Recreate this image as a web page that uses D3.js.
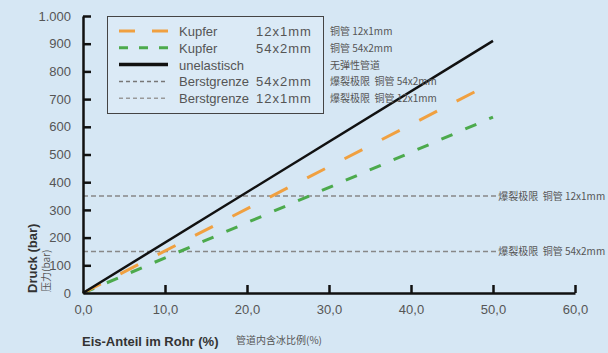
<!DOCTYPE html>
<html>
<head>
<meta charset="utf-8">
<script src="https://cdn.jsdelivr.net/npm/d3@7"></script>
<style>
  body { margin: 0; background: #d6e7f4; }
  svg { display: block; font-family: "Liberation Sans", Arial, sans-serif; }
  text { white-space: pre; }
</style>
</head>
<body>
<div id="chart"></div>
<script>
// data (x = ice share %, y = pressure bar)
const xTicks = [0, 10, 20, 30, 40, 50, 60];
const yTicks = [0, 100, 200, 300, 400, 500, 600, 700, 800, 900, 1000];
const kupfer12 = [[0, 0], [50, 760]];
const kupfer54 = [[0, 0], [50, 635]];
const unelastisch = [[0, 0], [50, 910]];
const berst = [350, 150];
const berstLabels = ["爆裂极限  铜管 12x1mm", "爆裂极限  铜管 54x2mm"];
const legendRows = [
  {name: "Kupfer", size: "12x1mm", cn: "铜管 12x1mm", color: "#f0a040", dash: "16,17", w: 3},
  {name: "Kupfer", size: "54x2mm", cn: "铜管 54x2mm", color: "#4caa4c", dash: "9,11", w: 3},
  {name: "unelastisch", size: "", cn: "无弹性管道", color: "#111", dash: null, w: 3.5},
  {name: "Berstgrenze", size: "54x2mm", cn: "爆裂极限  铜管 54x2mm", color: "#777", dash: "4,3", w: 1.5},
  {name: "Berstgrenze", size: "12x1mm", cn: "爆裂极限  铜管 12x1mm", color: "#999", dash: "4,3", w: 1.5}
];

const W = 608, H = 353;
const svg = d3.select("#chart").append("svg").attr("width", W).attr("height", H);
svg.append("rect").attr("width", W).attr("height", H).attr("fill", "#d6e7f4");

const x = d3.scaleLinear().domain([0, 60]).range([83, 575]);
const y = d3.scaleLinear().domain([0, 1000]).range([293, 16]);

// burst limit lines
berst.forEach((v, i) => {
  svg.append("line")
    .attr("x1", x(0)).attr("x2", x(50.4))
    .attr("y1", y(v)).attr("y2", y(v))
    .attr("stroke", "#888").attr("stroke-width", 1.5)
    .attr("stroke-dasharray", "5,3");
  svg.append("text")
    .attr("x", x(50.4) + 2).attr("y", y(v) + 4)
    .attr("font-family", "'Noto Sans CJK SC'")
    .attr("font-size", 10).attr("fill", "#555")
    .text(berstLabels[i]);
});

const line = d3.line().x(d => x(d[0])).y(d => y(d[1]));
svg.append("path").datum(kupfer54).attr("d", line)
  .attr("fill", "none").attr("stroke", "#4caa4c").attr("stroke-width", 3)
  .attr("stroke-dasharray", "12,14");
svg.append("path").datum(kupfer12).attr("d", line)
  .attr("fill", "none").attr("stroke", "#f0a040").attr("stroke-width", 3)
  .attr("stroke-dasharray", "20,22");
svg.append("path").datum(unelastisch).attr("d", line)
  .attr("fill", "none").attr("stroke", "#111").attr("stroke-width", 2.5);

// axes
const xAxis = svg.append("g").attr("transform", `translate(0,${y(0)})`)
  .call(d3.axisBottom(x).tickValues(xTicks).tickSizeInner(-8).tickSizeOuter(0)
    .tickPadding(12).tickFormat(d => d3.format(".1f")(d).replace(".", ",")));
const yAxis = svg.append("g").attr("transform", `translate(${x(0)},0)`)
  .call(d3.axisLeft(y).tickValues(yTicks).tickSizeInner(-8).tickSizeOuter(0)
    .tickPadding(12).tickFormat(d => d3.format(",")(d).replace(",", ".")));
[xAxis, yAxis].forEach(g => {
  g.select(".domain").attr("stroke", "#111").attr("stroke-width", 2.5);
  g.selectAll(".tick line").attr("stroke", "#111").attr("stroke-width", 2.5);
  g.selectAll(".tick text").attr("fill", "#555").attr("font-size", 13)
    .attr("font-family", "'Liberation Sans', Arial, sans-serif");
});
xAxis.selectAll(".tick").filter(d => d === 0).select("line").remove();
yAxis.selectAll(".tick").filter(d => d === 0).select("line").remove();

// axis titles
svg.append("text").attr("x", 82).attr("y", 346)
  .attr("font-size", 13).attr("font-weight", "bold").attr("fill", "#333")
  .text("Eis-Anteil im Rohr (%)");
svg.append("text").attr("x", 236).attr("y", 344)
  .attr("font-family", "'Noto Sans CJK SC'").attr("font-size", 10).attr("fill", "#555")
  .text("管道内含冰比例(%)");
svg.append("text").attr("transform", "translate(37,293) rotate(-90)")
  .attr("font-size", 13).attr("font-weight", "bold").attr("fill", "#333")
  .text("Druck (bar)");
svg.append("text").attr("transform", "translate(50,292) rotate(-90)")
  .attr("font-family", "'Noto Sans CJK SC'").attr("font-size", 10).attr("fill", "#555")
  .text("压力(bar)");

// legend
const lg = svg.append("g");
lg.append("rect").attr("x", 107.5).attr("y", 16.5).attr("width", 216).attr("height", 97)
  .attr("fill", "#dbeaf6").attr("stroke", "#444").attr("stroke-width", 1);
legendRows.forEach((r, i) => {
  const ry = 31 + i * 16.8;
  lg.append("line").attr("x1", 119).attr("x2", 168).attr("y1", ry).attr("y2", ry)
    .attr("stroke", r.color).attr("stroke-width", r.w)
    .attr("stroke-dasharray", r.dash);
  lg.append("text").attr("x", 179).attr("y", ry + 5).attr("font-size", 13).attr("fill", "#555")
    .text(r.name);
  lg.append("text").attr("x", 256).attr("y", ry + 5).attr("font-size", 13).attr("fill", "#555")
    .attr("letter-spacing", 1).text(r.size);
  svg.append("text").attr("x", 330).attr("y", ry + 4)
    .attr("font-family", "'Noto Sans CJK SC'").attr("font-size", 10).attr("fill", "#555")
    .text(r.cn);
});
</script>
</body>
</html>
